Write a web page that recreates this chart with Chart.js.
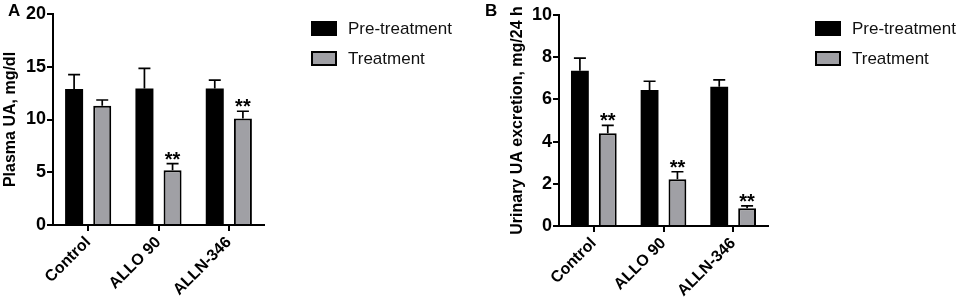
<!DOCTYPE html>
<html>
<head>
<meta charset="utf-8">
<script src="https://cdn.jsdelivr.net/npm/chart.js@4.4.1/dist/chart.umd.min.js"></script>
<style>
    html, body { margin: 0; padding: 0; background: #fff; }
    #wrap { position: relative; width: 957px; height: 301px; overflow: hidden; }
    canvas { position: absolute; top: 0; }
    #chartA { left: 0; }
    #chartB { left: 480px; }
</style>
</head>
<body>
<div id="wrap">
    <canvas id="chartA" width="480" height="301"></canvas>
    <canvas id="chartB" width="477" height="301"></canvas>
</div>
<script>
// Groups on the x axis
const categories = ['Control', 'ALLO 90', 'ALLN-346'];
const seriesNames = ['Pre-treatment', 'Treatment'];

// Panel A: plasma uric acid (mg/dl)
const plasmaPre = [12.9, 12.95, 12.95];
const plasmaPreErr = [1.35, 1.9, 0.78];
const plasmaTreat = [11.3, 5.2, 10.1];
const plasmaTreatErr = [0.55, 0.62, 0.68];
const plasmaStars = ['', '**', '**'];
const plasmaTicks = [0, 5, 10, 15, 20];

// Panel B: urinary uric acid excretion (mg/24 h)
const urinaryPre = [7.36, 6.45, 6.6];
const urinaryPreErr = [0.6, 0.41, 0.33];
const urinaryTreat = [4.39, 2.21, 0.84];
const urinaryTreatErr = [0.38, 0.36, 0.11];
const urinaryStars = ['**', '**', '**'];
const urinaryTicks = [0, 2, 4, 6, 8, 10];

const FONT = "'Liberation Sans', Arial, sans-serif";
const PRE_COLOR = '#000000';
const TREAT_COLOR = '#a0a0a5';

// Draws upper error bars and significance stars on top of each bar
const errorBarPlugin = {
    id: 'errorBars',
    afterDatasetsDraw(chart) {
        const ctx = chart.ctx;
        const yScale = chart.scales.y;
        ctx.save();
        chart.data.datasets.forEach((ds, di) => {
            const meta = chart.getDatasetMeta(di);
            meta.data.forEach((bar, i) => {
                const top = yScale.getPixelForValue(ds.data[i] + ds.errors[i]);
                const base = yScale.getPixelForValue(ds.data[i]);
                ctx.strokeStyle = '#000';
                ctx.lineWidth = 1.7;
                ctx.beginPath();
                ctx.moveTo(bar.x, base);
                ctx.lineTo(bar.x, top);
                ctx.moveTo(bar.x - 6, top);
                ctx.lineTo(bar.x + 6, top);
                ctx.stroke();
                if (ds.stars && ds.stars[i]) {
                    ctx.fillStyle = '#000';
                    ctx.font = 'bold 20px ' + FONT;
                    ctx.textAlign = 'center';
                    ctx.textBaseline = 'alphabetic';
                    ctx.fillText(ds.stars[i], bar.x, top + 2);
                }
            });
        });
        ctx.restore();
    }
};

// Legend to the right of the plot area plus the panel letter
const sideLegendPlugin = {
    id: 'sideLegend',
    afterDraw(chart, args, opts) {
        const ctx = chart.ctx;
        const area = chart.chartArea;
        ctx.save();
        chart.data.datasets.forEach((ds, i) => {
            const x = area.right + 47;
            const y = 21 + i * 30;
            ctx.fillStyle = ds.backgroundColor;
            ctx.fillRect(x, y, 26, 15);
            if (ds.borderWidth) {
                ctx.strokeStyle = '#000';
                ctx.lineWidth = 2;
                ctx.strokeRect(x + 1, y + 1, 24, 13);
            }
            ctx.fillStyle = '#111';
            ctx.font = '17px ' + FONT;
            ctx.textAlign = 'left';
            ctx.textBaseline = 'middle';
            ctx.fillText(ds.label, x + 37, y + 8);
        });
        ctx.fillStyle = '#000';
        ctx.font = 'bold 17px ' + FONT;
        ctx.textAlign = 'left';
        ctx.textBaseline = 'top';
        ctx.fillText(opts.letter, opts.letterX, 3);
        ctx.restore();
    }
};

function makePanel(canvasId, cfg) {
    const ctx = document.getElementById(canvasId).getContext('2d');
    const axisGrid = {
        display: true,
        drawOnChartArea: false,
        drawTicks: true,
        tickLength: 6,
        color: '#000',
        lineWidth: 2,
        offset: false
    };
    return new Chart(ctx, {
        type: 'bar',
        data: {
            labels: categories,
            datasets: [{
                label: seriesNames[0],
                data: cfg.pre,
                errors: cfg.preErr,
                backgroundColor: PRE_COLOR,
                borderWidth: 0
            }, {
                label: seriesNames[1],
                data: cfg.treat,
                errors: cfg.treatErr,
                stars: cfg.stars,
                backgroundColor: TREAT_COLOR,
                borderColor: '#000',
                borderWidth: 2,
                borderSkipped: 'start'
            }]
        },
        options: {
            responsive: false,
            animation: false,
            devicePixelRatio: 1,
            categoryPercentage: 0.8,
            barPercentage: 0.64,
            layout: { padding: { top: cfg.top, right: cfg.right, left: 0, bottom: 0 } },
            plugins: {
                legend: { display: false },
                tooltip: { enabled: false },
                sideLegend: { letter: cfg.letter, letterX: cfg.letterX }
            },
            scales: {
                x: {
                    offset: true,
                    border: { color: '#000', width: 2 },
                    grid: axisGrid,
                    ticks: {
                        color: '#000',
                        font: { family: FONT, size: 16, weight: 'bold' },
                        maxRotation: 45,
                        minRotation: 45,
                        padding: 2
                    },
                    afterFit: s => { s.height = 301 - cfg.bottom; }
                },
                y: {
                    min: 0,
                    max: cfg.ticks[cfg.ticks.length - 1],
                    border: { color: '#000', width: 2 },
                    grid: axisGrid,
                    afterBuildTicks: s => { s.ticks = cfg.ticks.map(v => ({ value: v })); },
                    ticks: {
                        color: '#000',
                        font: { family: FONT, size: 18, weight: 'bold' },
                        padding: 1
                    },
                    title: {
                        display: true,
                        text: cfg.title,
                        color: '#000',
                        font: { family: FONT, size: 16, weight: 'bold' },
                        padding: { top: cfg.titlePad, bottom: 0 }
                    },
                    afterFit: s => { s.width = cfg.axisWidth; }
                }
            }
        },
        plugins: [errorBarPlugin, sideLegendPlugin]
    });
}

document.addEventListener('DOMContentLoaded', () => {
    makePanel('chartA', {
        pre: plasmaPre, preErr: plasmaPreErr,
        treat: plasmaTreat, treatErr: plasmaTreatErr,
        stars: plasmaStars, ticks: plasmaTicks,
        title: 'Plasma UA, mg/dl',
        letter: 'A', letterX: 8,
        axisWidth: 53, titlePad: 1,
        top: 14, bottom: 225, right: 480 - 264
    });
    makePanel('chartB', {
        pre: urinaryPre, preErr: urinaryPreErr,
        treat: urinaryTreat, treatErr: urinaryTreatErr,
        stars: urinaryStars, ticks: urinaryTicks,
        title: 'Urinary UA excretion, mg/24 h',
        letter: 'B', letterX: 5,
        axisWidth: 79, titlePad: 28,
        top: 15, bottom: 226, right: 477 - 288
    });
});
</script>
</body>
</html>
